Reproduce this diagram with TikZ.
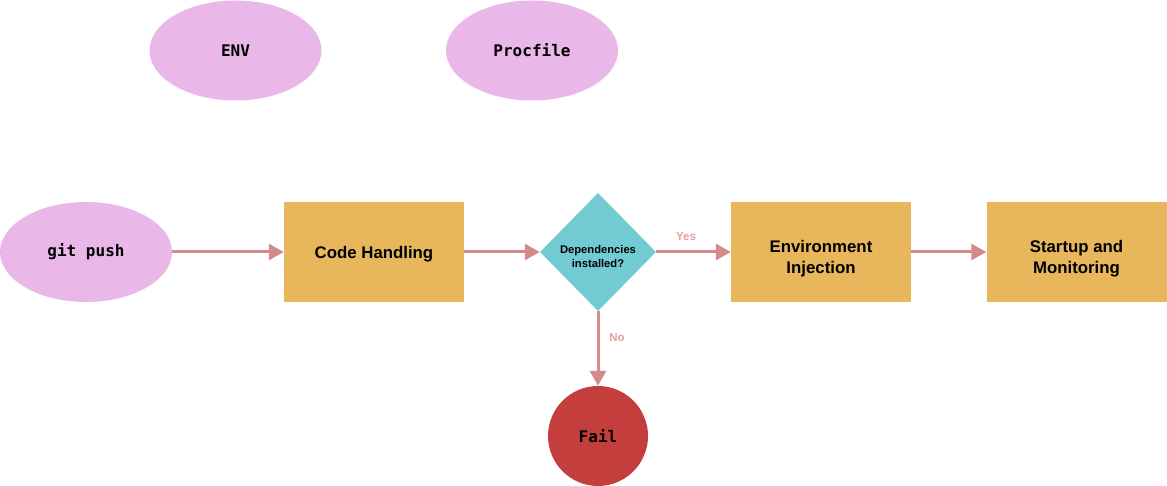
\documentclass[tikz,border=0pt]{standalone}
\usepackage{fontspec}
\setmainfont{Liberation Sans}
\newfontfamily\monofont{DejaVu Sans Mono}
\usetikzlibrary{shapes.geometric,arrows.meta}
\definecolor{lilac}{HTML}{EAB8E8}
\definecolor{mustard}{HTML}{E8B75C}
\definecolor{teal}{HTML}{72CBD2}
\definecolor{failred}{HTML}{C43E3E}
\definecolor{arrowpink}{HTML}{D48A8A}
\definecolor{labelpink}{HTML}{E0A0A0}
\begin{document}
\begin{tikzpicture}[x=1pt,y=-1pt,
  oval/.style={ellipse,fill=lilac,minimum width=172pt,minimum height=100pt,inner sep=0pt,
    font=\monofont\bfseries\fontsize{16}{18}\selectfont},
  stepbox/.style={rectangle,fill=mustard,minimum width=180pt,minimum height=100pt,inner sep=0pt},
  steptext/.style={align=center,font=\bfseries\fontsize{16.8}{21}\selectfont},
  decision/.style={diamond,fill=teal,minimum width=116pt,minimum height=118pt,inner sep=0pt},
  dectext/.style={align=center,font=\bfseries\fontsize{11.2}{14}\selectfont},
  failnode/.style={circle,fill=failred,minimum size=100pt,inner sep=0pt,
    font=\monofont\bfseries\fontsize{16}{18}\selectfont},
  conn/.style={draw=arrowpink,line width=3pt,-{Triangle[length=15pt,width=16pt]}},
  lbl/.style={text=labelpink,font=\bfseries\fontsize{11.5}{13}\selectfont}
]
\useasboundingbox (0,0) rectangle (1167,486);
\node[oval] (env) at (235.5,50.5) {ENV};
\node[oval] (proc) at (532,50.5) {Procfile};
\node[oval] (git) at (86,252) {\raisebox{-1.5pt}{git push}};
\node[stepbox,label={[steptext,yshift=-2pt]center:Code Handling}] (code) at (374,252) {};
\node[decision,label={[dectext,yshift=-4pt]center:Dependencies\\installed?}] (dep) at (598,252) {};
\node[stepbox,label={[steptext,yshift=-6.5pt]center:Environment\\Injection}] (inj) at (821,252) {};
\node[stepbox,label={[steptext,yshift=-6.5pt]center:Startup and\\Monitoring}] (start) at (1076.5,252) {};
\node[failnode] (fail) at (598,436) {\raisebox{-1pt}{Fail}};
\draw[conn] (git) -- (code);
\draw[conn] (code) -- (dep);
\draw[conn] (dep) -- node[lbl,pos=0.4,yshift=15pt] (yes) {Yes} (inj);
\draw[conn] (dep) -- node[lbl,pos=0.35,xshift=19pt] (no) {No} (fail);
\draw[conn] (inj) -- (start);
\end{tikzpicture}
\end{document}
